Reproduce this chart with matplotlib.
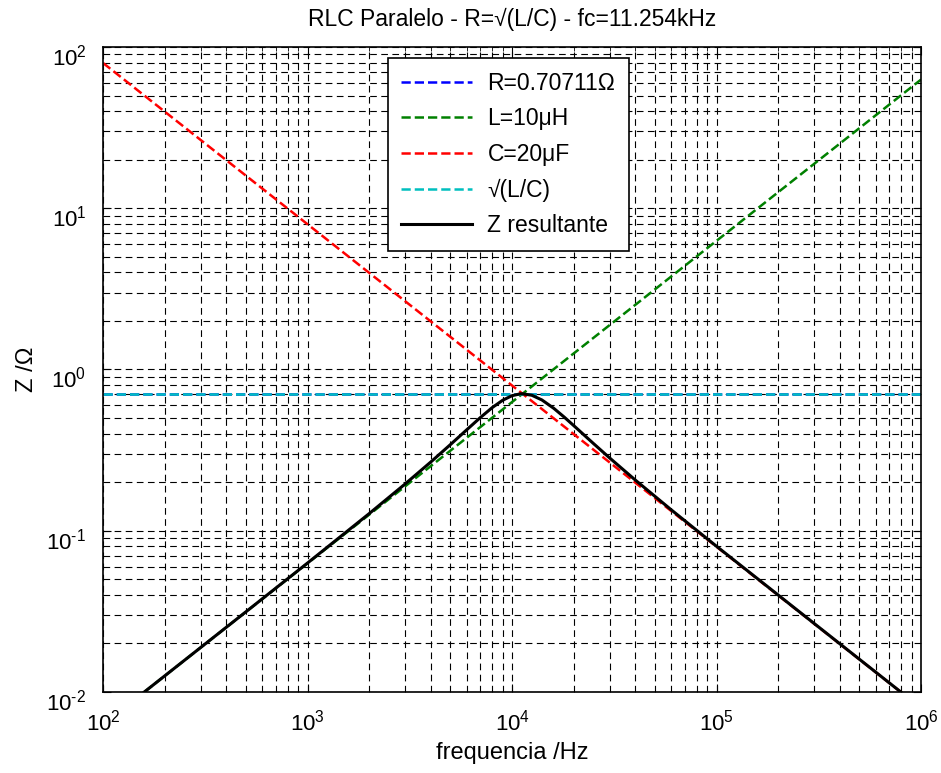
import numpy as np
import matplotlib.pyplot as plt
import matplotlib.ticker as mticker
import matplotlib.transforms as mtransforms

plt.rcParams['font.family'] = ['Liberation Sans', 'DejaVu Sans']
plt.rcParams['mathtext.fontset'] = 'custom'
plt.rcParams['mathtext.rm'] = 'Liberation Sans'
plt.rcParams['mathtext.default'] = 'regular'

# component values
R = 0.70711      # ohm
L_uH = 10
C_uF = 20

# frequency endpoints (Hz) and the straight reactance lines on them
f_ends = [1e2, 1e6]
xl_ends = [0.006283, 62.83]     # inductor |Z|
xc_ends = [79.58, 0.007958]     # capacitor |Z|
r_ends = [R, R]
sqrt_lc_ends = [0.70711, 0.70711]

# resultant parallel impedance
f_z = [100, 200, 500, 1000, 2000, 3000, 4000, 5000, 6000, 7000, 8000, 9000,
       10000, 11000, 11254, 12500, 14000, 16000, 18000, 20000, 25000, 30000,
       40000, 60000, 100000, 1000000]
z_res = [0.006283, 0.01257, 0.03145, 0.06308, 0.1276, 0.1950, 0.2665, 0.3425,
         0.4224, 0.5036, 0.5804, 0.6447, 0.6881, 0.7068, 0.70711, 0.6920,
         0.6472, 0.5743, 0.5065, 0.4495, 0.3476, 0.2829, 0.2066, 0.1349,
         0.08009, 0.007958]


def pow10(v, pos):
    e = int(round(np.log10(v)))
    if e < 0:
        return r'$10^{\text{-}%d}$' % -e
    return r'$10^{%d}$' % e


fig = plt.figure(figsize=(9.41, 7.73), dpi=100)
ax = fig.add_axes([0.1095, 0.1048, 0.8693, 0.8344])

ax.loglog(f_ends, r_ends, '--', color='#0000ff', lw=1.8, label='R=0.70711\u03a9')
ax.loglog(f_ends, xl_ends, '--', color='#008000', lw=1.8, label='L=%d\u03bcH' % L_uH)
ax.loglog(f_ends, xc_ends, '--', color='#ff0000', lw=1.8, label='C=%d\u03bcF' % C_uF)
ax.loglog(f_ends, sqrt_lc_ends, '--', color='#00bfbf', lw=1.8, label='\u221a(L/C)')
ax.loglog(f_z, z_res, '-', color='black', lw=2.2, label='Z resultante')

ax.set_xlim(1e2, 1e6)
ax.set_ylim(1e-2, 1e2)
ax.xaxis.set_major_formatter(mticker.FuncFormatter(pow10))
ax.yaxis.set_major_formatter(mticker.FuncFormatter(pow10))

ax.grid(True, which='both', color='black', linestyle=(0, (6, 4)), lw=0.8)
ax.tick_params(which='both', direction='in', top=True, right=True, labelsize=16)
ax.tick_params(axis='x', which='major', pad=13)
ax.tick_params(axis='y', which='major', pad=12)
ax.tick_params(which='major', length=6)
ax.tick_params(which='minor', length=3)
for s in ax.spines.values():
    s.set_linewidth(1.2)

# y tick labels sit with the base number just under the tick line
shift = mtransforms.ScaledTranslation(0, -8 / 100, fig.dpi_scale_trans)
for t in ax.yaxis.get_major_ticks():
    t.label1.set_transform(t.label1.get_transform() + shift)

ax.set_title('RLC Paralelo - R=\u221a(L/C) - fc=11.254kHz', fontsize=16.5, pad=15)
ax.set_xlabel('frequencia /Hz', fontsize=17, labelpad=4)
ax.set_ylabel('Z /\u03a9', fontsize=17, labelpad=6)

leg = ax.legend(loc='upper left', bbox_to_anchor=(0.348, 0.983), fontsize=16.5,
                fancybox=False, framealpha=1, edgecolor='black',
                handlelength=3.1, handletextpad=0.65, borderpad=0.6,
                labelspacing=0.55, borderaxespad=0)
leg.get_frame().set_linewidth(1.2)

fig.savefig('out.png')
